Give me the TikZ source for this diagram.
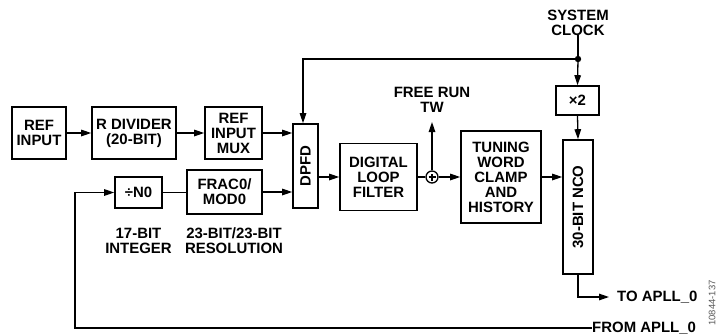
\documentclass[tikz,border=0pt]{standalone}
\usepackage{fontspec}
\setmainfont{Liberation Sans}
\usetikzlibrary{arrows.meta,calc}
\begin{document}
\begin{tikzpicture}[x=1bp,y=-1bp,
  every node/.style={font=\fontsize{15}{15}\selectfont\bfseries, align=center, inner sep=0pt},
  box/.style={draw, line width=1.6bp, minimum width=#1},
  conn/.style={line width=1.3bp},
  arr/.style={line width=1.3bp, -{Triangle[length=10bp,width=6.5bp]}},
]
\useasboundingbox (0,0) rectangle (720,335);
% boxes
\node[box=54bp, minimum height=52bp] (refin) at (39,133) {REF\\INPUT};
\node[box=84bp, minimum height=52bp] (rdiv) at (134,133) {R DIVIDER\\(20-BIT)};
\node[box=57bp, minimum height=52bp] (mux) at (233.5,133) {REF\\INPUT\\MUX};
\node[box=25bp, minimum height=84bp] (dpfd) at (305.5,166) {};
\node[rotate=90] (dpfdt) at (dpfd.center) {DPFD};
\node[box=47bp, minimum height=31bp] (n0) at (138.5,192.5) {÷N0};
\node[box=75bp, minimum height=44bp] (frac) at (224.5,192) {FRAC0/\\MOD0};
\node[box=77bp, minimum height=67bp] (dlf) at (378.5,177) {DIGITAL\\LOOP\\FILTER};
\node[draw, circle, line width=1.3bp, minimum size=12bp] (sum) at (432,177) {};
\draw[line width=1.1bp] ([xshift=-3.5bp]sum.center) -- ([xshift=3.5bp]sum.center)
  ([yshift=-3.5bp]sum.center) -- ([yshift=3.5bp]sum.center);
\node[box=80bp, minimum height=92bp] (tw) at (501,177) {TUNING\\WORD\\CLAMP\\AND\\HISTORY};
\node[box=43bp, minimum height=29bp] (x2) at (577.5,100.5) {×2};
\node[box=30bp, minimum height=134bp] (nco) at (578,207) {};
\node[rotate=90] (ncot) at (nco.center) {30-BIT NCO};
% text labels
\node (clk) at (578,22.5) {SYSTEM\\CLOCK};
\node (free) at (432,99.5) {FREE RUN\\TW};
\node (n0lab) at (138.5,240.5) {17-BIT\\INTEGER};
\node (fraclab) at (234,240.5) {23-BIT/23-BIT\\RESOLUTION};
\node[anchor=west] (to) at (617,297) {TO APLL\_0};
\node[anchor=west] (from) at (592,328) {FROM APLL\_0};
\node[rotate=90, font=\fontsize{9.5}{9.5}\selectfont, text=black!65] (fig) at (712,303) {10844-137};
% coordinates
\coordinate (dot) at (578,59);
\coordinate (fretip) at (432,122);
\coordinate (tolin) at (609,297);
\coordinate (fb) at (75,328);
% connectors
\draw[arr] (refin.east) -- (rdiv.west);
\draw[arr] (rdiv.east) -- (mux.west);
\draw[arr] (mux.east) -- (mux.east -| dpfd.west);
\draw[conn] (n0.east) -- (n0.east -| frac.west);
\draw[arr] (frac.east) -- (frac.east -| dpfd.west);
\draw[arr] (dpfd.east |- dlf.west) -- (dlf.west);
\draw[conn] (dlf.east) -- (sum.west);
\draw[arr] (sum.east) -- (tw.west);
\draw[arr] (sum.north) -- (fretip);
\draw[arr] (tw.east) -- (tw.east -| nco.west);
\draw[conn] (clk.south) -- (dot);
\fill (dot) circle (3.2bp);
\draw[arr] (dot) -- (x2.north);
\draw[arr] (x2.south) -- (nco.north);
\draw[arr] (dot) -| ([xshift=-2.5bp]dpfd.north);
\draw[arr] (nco.south) |- (tolin);
\draw[arr] (from.west) -- (fb) |- (n0.west);
\end{tikzpicture}
\end{document}
